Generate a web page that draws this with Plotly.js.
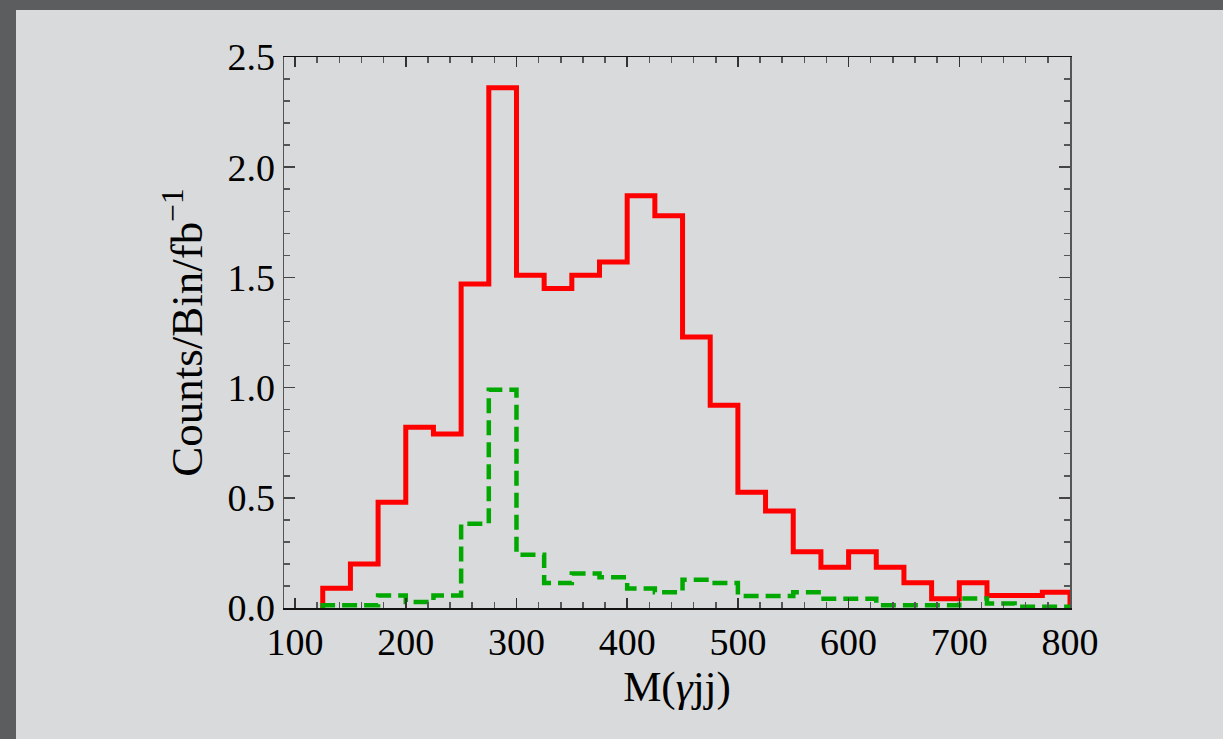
<!DOCTYPE html>
<html>
<head>
<meta charset="utf-8">
<script src="https://cdn.plot.ly/plotly-3.0.1.min.js"></script>
<style>
  html, body { margin: 0; padding: 0; background: #5c5d5f; width: 1223px; height: 739px; overflow: hidden; }
  #chart { position: absolute; left: 16px; top: 10px; width: 1207px; height: 729px; background: #d9dadb; }
</style>
</head>
<body>
<div id="chart"></div>
<script>
// Bin lower edges (width 25)
const binEdges = [125,150,175,200,225,250,275,300,325,350,375,400,425,450,475,500,525,550,575,600,625,650,675,700,725,750,775];
const binUpper = 800;
// Red (solid) histogram, Counts/Bin/fb^-1
const redCounts = [0.09,0.20,0.48,0.82,0.79,1.47,2.36,1.51,1.45,1.51,1.57,1.87,1.78,1.23,0.92,0.525,0.44,0.255,0.185,0.255,0.185,0.115,0.042,0.115,0.057,0.057,0.072];
// Green (dashed) histogram
const greenCounts = [0.012,0.012,0.057,0.027,0.057,0.382,0.99,0.242,0.113,0.156,0.14,0.088,0.072,0.128,0.113,0.055,0.055,0.072,0.042,0.042,0.013,0.013,0.013,0.043,0.02,0.006,0.006];

function stepOutline(edges, upper, vals) {
  const x = [edges[0]];
  const y = [0];
  for (let i = 0; i < edges.length; i++) { x.push(edges[i]); y.push(vals[i]); }
  x.push(upper); y.push(vals[vals.length - 1]);
  x.push(upper); y.push(0);
  return {x, y};
}

const r = stepOutline(binEdges, binUpper, redCounts);
const g = stepOutline(binEdges, binUpper, greenCounts);

const traces = [
  { x: r.x, y: r.y, type: 'scatter', mode: 'lines', line: { shape: 'hv', color: '#ff0000', width: 5 }, hoverinfo: 'skip', cliponaxis: false },
  { x: g.x, y: g.y, type: 'scatter', mode: 'lines', line: { shape: 'hv', color: '#00a800', width: 4.5, dash: '15px,7px' }, hoverinfo: 'skip', cliponaxis: false }
];

const font = { family: 'Liberation Serif, Times New Roman, serif', color: '#000' };

const layout = {
  width: 1207, height: 729,
  margin: { l: 268, r: 153, t: 47, b: 131 },
  paper_bgcolor: '#d9dadb',
  plot_bgcolor: '#d9dadb',
  showlegend: false,
  font: Object.assign({ size: 38 }, font),
  xaxis: {
    range: [90, 800],
    tickmode: 'linear', tick0: 0, dtick: 100,
    ticks: 'inside', ticklen: 10, tickwidth: 1.5, tickcolor: '#333',
    minor: { tick0: 0, dtick: 20, ticks: 'inside', ticklen: 6, tickwidth: 1.5, tickcolor: '#555' },
    showline: true, linecolor: '#111', linewidth: 1.5, mirror: 'ticks',
    showgrid: false, zeroline: false,
    tickfont: Object.assign({ size: 38 }, font),
    title: { text: 'M(<i>γ</i>jj)', font: Object.assign({ size: 43 }, font), standoff: 4 }
  },
  yaxis: {
    range: [0, 2.5],
    tickmode: 'linear', tick0: 0, dtick: 0.5, tickformat: '.1f',
    ticks: 'inside', ticklen: 11, tickwidth: 1.5, tickcolor: '#444',
    minor: { tick0: 0, dtick: 0.1, ticks: 'inside', ticklen: 6, tickwidth: 1.5, tickcolor: '#555' },
    showline: true, linecolor: '#555', linewidth: 1.5, mirror: 'ticks',
    showgrid: false, zeroline: false,
    tickfont: Object.assign({ size: 38 }, font),
    title: { text: 'Counts/Bin/fb<sup>−1</sup>', font: Object.assign({ size: 45 }, font), standoff: 10 }
  }
};

Plotly.newPlot('chart', traces, layout, { displayModeBar: false, staticPlot: true });
</script>
</body>
</html>
